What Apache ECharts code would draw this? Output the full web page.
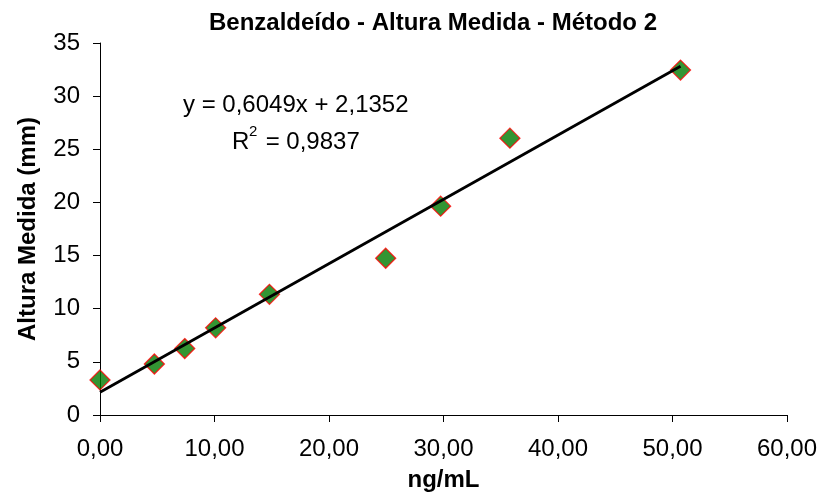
<!DOCTYPE html>
<html><head><meta charset="utf-8">
<script src="https://cdn.jsdelivr.net/npm/echarts@6/dist/echarts.min.js"></script>
<style>html,body{margin:0;padding:0;background:#fff}#c{width:825px;height:497px}</style>
</head><body><div id="c"></div>
<script>
var xValues = [0, 4.75, 7.4, 10.1, 14.8, 24.95, 29.75, 35.8, 50.7];
var yValues = [3.3, 4.8, 6.25, 8.2, 11.35, 14.75, 19.65, 26.05, 32.45];
var slope = 0.6049, intercept = 2.1352;
var eqText = 'y = 0,6049x + 2,1352';
var r2Text = '0,9837';

var pts = xValues.map(function(x,i){return [x, yValues[i]];});
var xMax = Math.max.apply(null, xValues);
var trend = [[0, intercept], [xMax, slope*xMax + intercept]];
var F = '"Liberation Sans", Arial, sans-serif';
var chart = echarts.init(document.getElementById('c'));
chart.setOption({
  animation:false,
  textStyle:{fontFamily:F},
  title:{text:'Benzaldeído - Altura Medida - Método 2', left:428, textAlign:'center', top:6,
    textStyle:{fontFamily:F, fontWeight:'bold', fontSize:24, color:'#000'}},
  grid:{left:100, right:38, top:43, bottom:80},
  xAxis:{type:'value', min:0, max:60, interval:10, name:'ng/mL', nameLocation:'middle', nameGap:53,
    nameTextStyle:{fontFamily:F, fontWeight:'bold', fontSize:24, color:'#000'},
    axisLine:{lineStyle:{color:'#000'}}, axisTick:{show:true, inside:false, length:7, lineStyle:{color:'#000'}},
    splitLine:{show:false},
    axisLabel:{fontFamily:F, fontSize:24, color:'#000', margin:22, formatter:function(v){return v.toFixed(2).replace('.',',');}}},
  yAxis:{type:'value', min:0, max:35, interval:5, name:'Altura Medida (mm)', nameLocation:'middle', nameGap:60,
    nameTextStyle:{fontFamily:F, fontWeight:'bold', fontSize:24, color:'#000'},
    axisLine:{show:true, lineStyle:{color:'#000'}}, axisTick:{show:true, length:7, lineStyle:{color:'#000'}},
    splitLine:{show:false},
    axisLabel:{fontFamily:F, fontSize:24, color:'#000', margin:20}},
  graphic:[
    {type:'text', left:183, top:93, style:{text:eqText, font:'24px '+F, fill:'#000'}},
    {type:'text', left:232, top:130, style:{text:'R', font:'24px '+F, fill:'#000'}},
    {type:'text', left:249, top:124, style:{text:'2', font:'15px '+F, fill:'#000'}},
    {type:'text', left:259, top:130, style:{text:' = '+r2Text, font:'24px '+F, fill:'#000'}}
  ],
  series:[
    {type:'line', data:trend, symbol:'none', lineStyle:{color:'#000', width:2.8}, z:3},
    {type:'scatter', data:pts, symbol:'diamond', symbolSize:[20,20],
      itemStyle:{color:'#007a00', borderColor:'#ff0000', borderWidth:1.3}, z:2}
  ]
});
</script></body></html>
